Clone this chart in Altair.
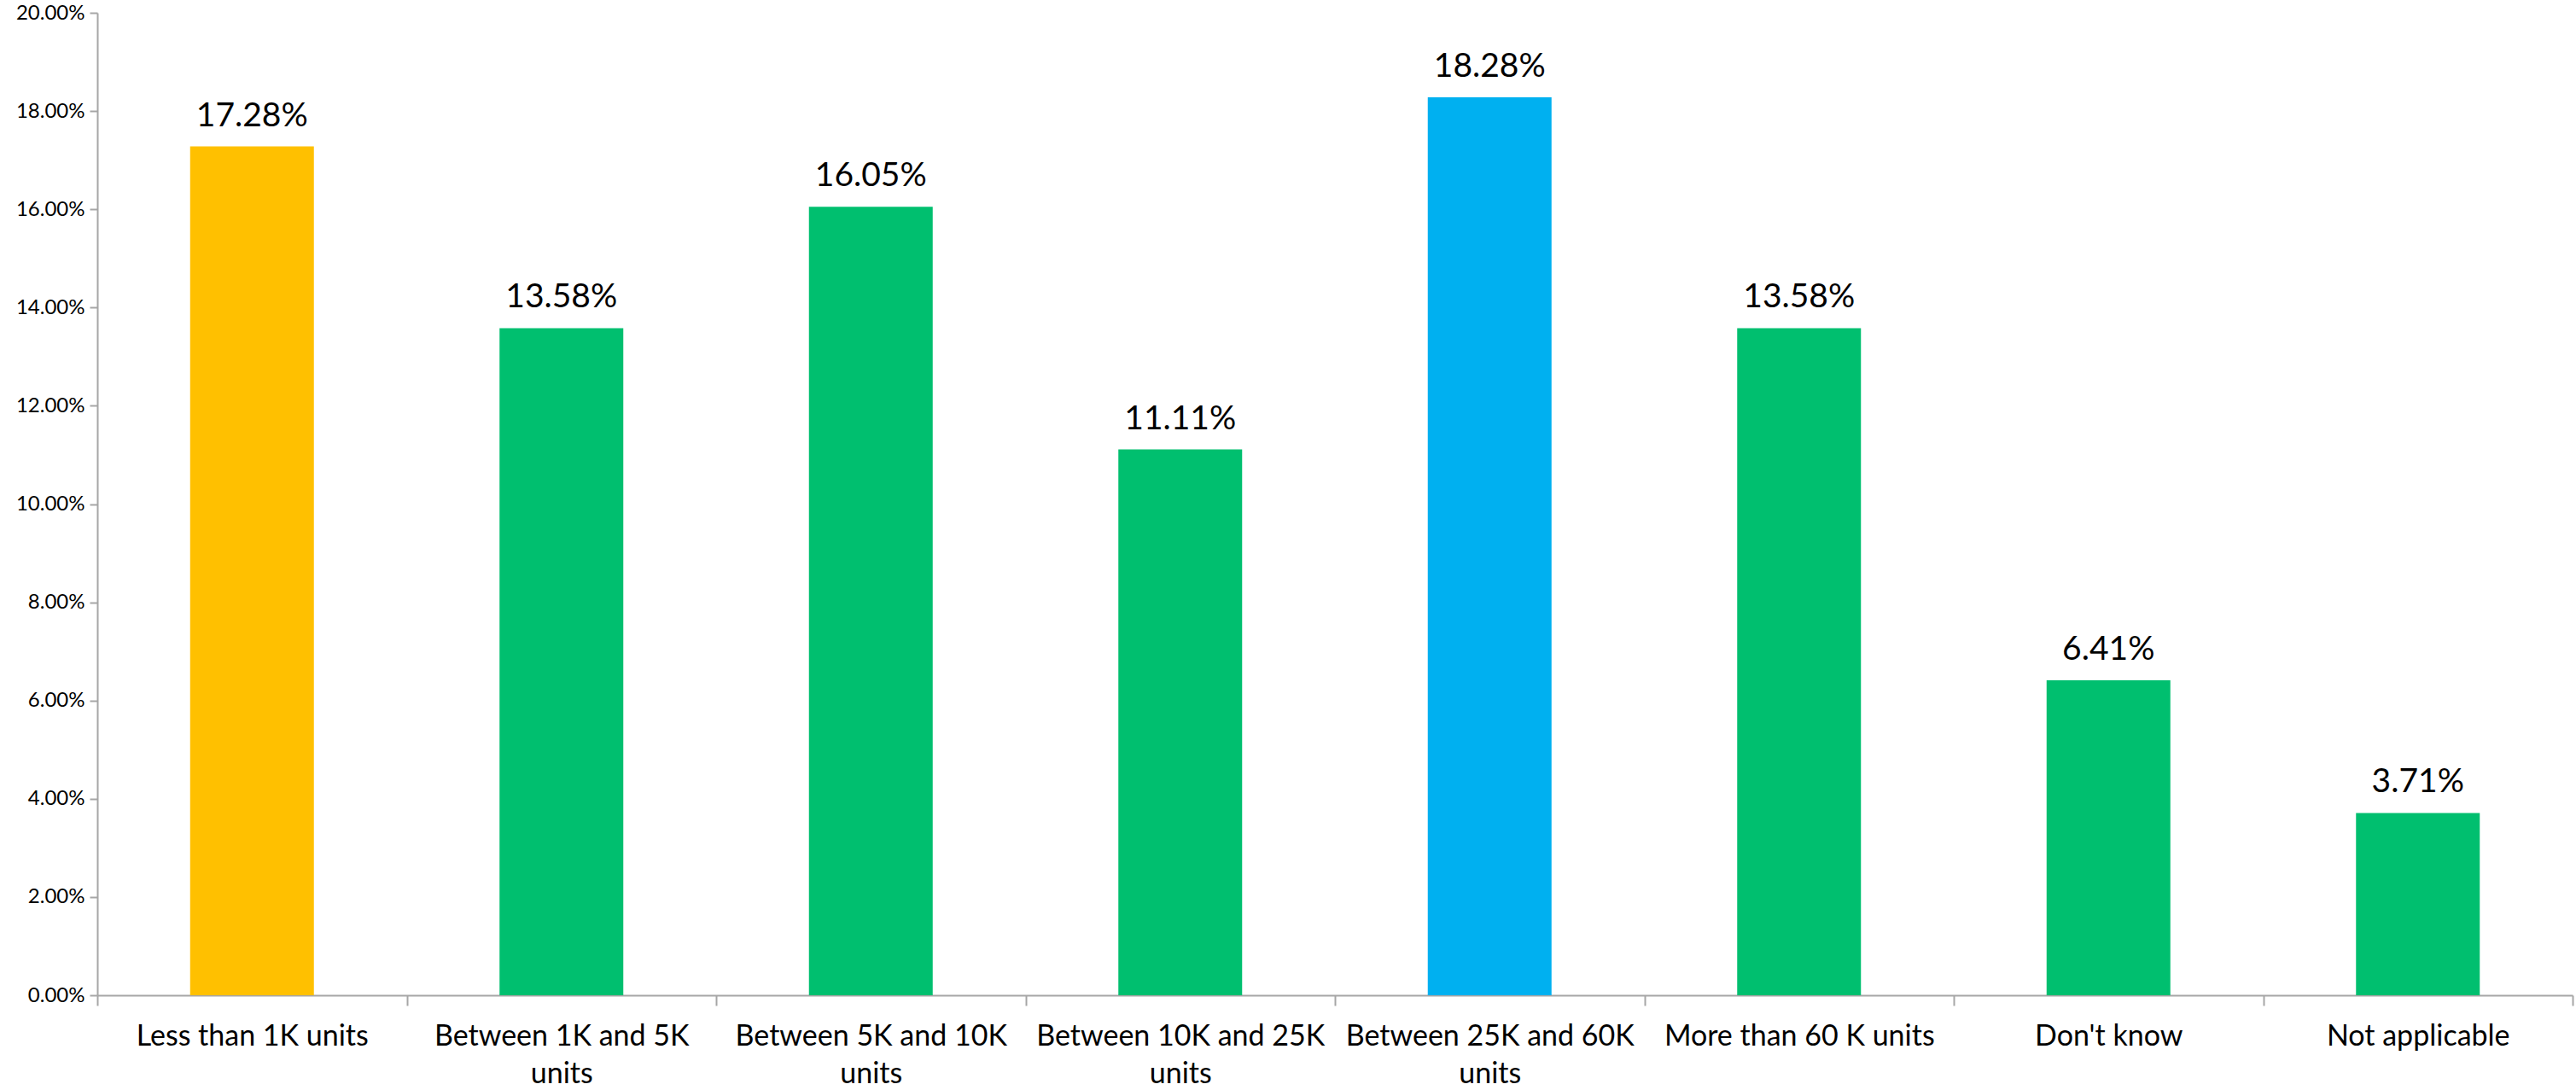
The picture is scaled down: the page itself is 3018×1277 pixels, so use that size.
import altair as alt
import pandas as pd

categories = [
    "Less than 1K units",
    "Between 1K and 5K units",
    "Between 5K and 10K units",
    "Between 10K and 25K units",
    "Between 25K and 60K units",
    "More than 60 K units",
    "Don't know",
    "Not applicable",
]
values = [0.1728, 0.1358, 0.1605, 0.1111, 0.1828, 0.1358, 0.0641, 0.0371]
colors = ["#FFC000", "#00BF6F", "#00BF6F", "#00BF6F", "#00B0F0", "#00BF6F", "#00BF6F", "#00BF6F"]

df = pd.DataFrame({"category": categories, "value": values, "color": colors})

FONT = "Lato"

x_enc = alt.X(
    "category:N",
    sort=categories,
    title=None,
    scale=alt.Scale(paddingInner=0, paddingOuter=0),
    axis=alt.Axis(
        labelAngle=0,
        labelFont=FONT,
        labelFontSize=34,
        labelColor="#000000",
        labelPadding=19,
        labelLineHeight=44,
        labelExpr="length(datum.label) > 20 ? [slice(datum.label, 0, lastindexof(datum.label, ' ')), slice(datum.label, lastindexof(datum.label, ' ') + 1)] : datum.label",
        domainColor="#A6A6A6",
        domainWidth=2,
        tickColor="#A6A6A6",
        tickWidth=2,
        tickSize=12,
        tickBand="extent",
        labelLimit=400,
    ),
)

y_enc = alt.Y(
    "value:Q",
    title=None,
    scale=alt.Scale(domain=[0, 0.2], nice=False),
    axis=alt.Axis(
        format=".2%",
        values=[i / 50 for i in range(11)],
        labelFont=FONT,
        labelFontSize=24,
        labelColor="#000000",
        labelPadding=6,
        domainColor="#A6A6A6",
        domainWidth=2,
        tickColor="#A6A6A6",
        tickWidth=2,
        tickSize=9,
        grid=False,
    ),
)

bars = alt.Chart(df).mark_bar(width=alt.RelativeBandSize(0.4)).encode(
    x=x_enc,
    y=y_enc,
    color=alt.Color("color:N", scale=None),
)

labels = alt.Chart(df).mark_text(
    baseline="bottom",
    align="center",
    dy=-16,
    font=FONT,
    fontSize=39,
    color="#000000",
).encode(
    x=alt.X("category:N", sort=categories),
    y=alt.Y("value:Q"),
    text=alt.Text("value:Q", format=".2%"),
)

chart = (
    alt.layer(bars, labels)
    .properties(
        width=2900,
        height=1151,
        autosize=alt.AutoSizeParams(type="none"),
        padding={"left": 114, "top": 15, "right": 4, "bottom": 111},
        background="#FFFFFF",
    )
    .configure_view(stroke=None)
)

chart.save("out.html", embed_options={"renderer": "svg", "actions": False})
